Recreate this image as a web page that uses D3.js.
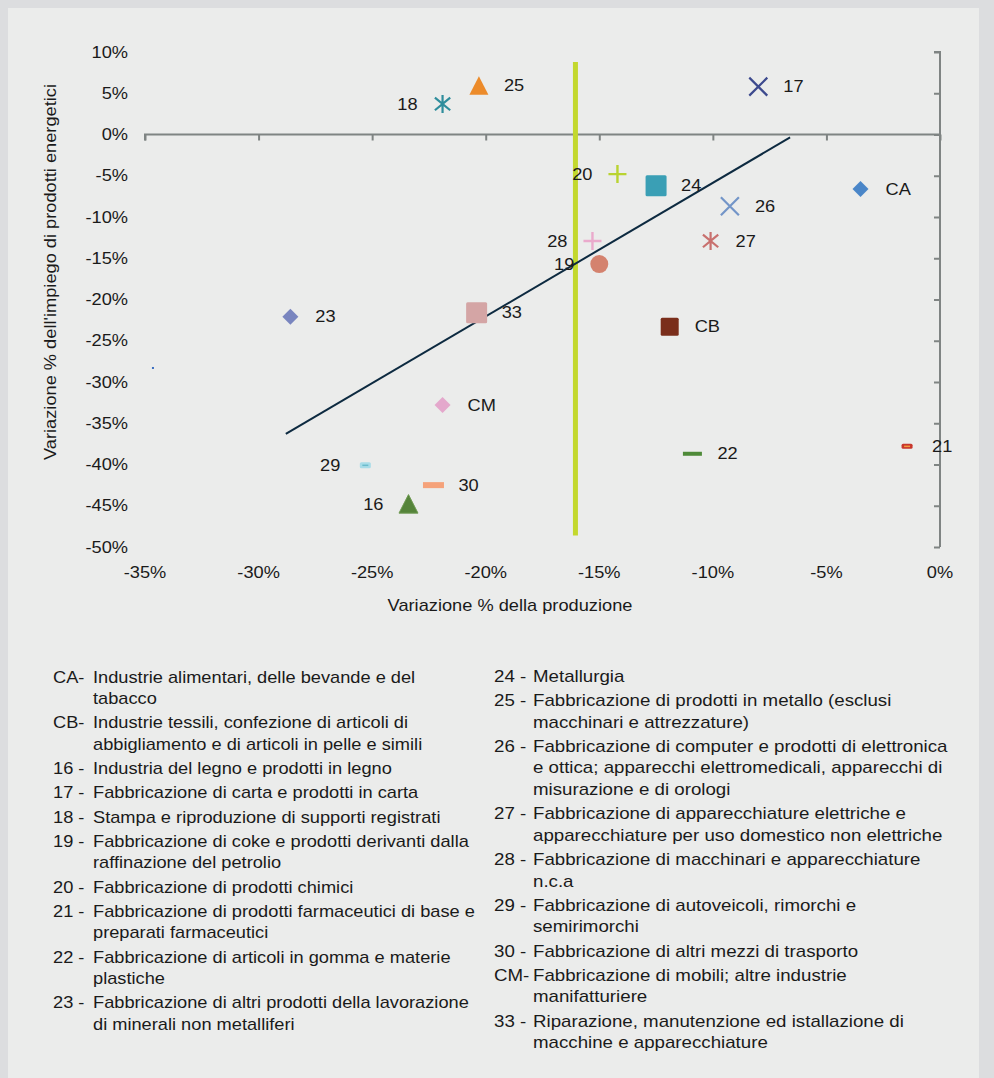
<!DOCTYPE html>
<html>
<head>
<meta charset="utf-8">
<script src="https://cdn.jsdelivr.net/npm/d3@7"></script>
<style>
  html, body { margin: 0; padding: 0; background: #dcdddf; }
  svg { display: block; }
  text { font-family: "Liberation Sans", Arial, sans-serif; fill: #1a1a1a; }
</style>
</head>
<body>
<svg id="chart" width="994" height="1078"></svg>
<script>
// ---------- DATA ----------
const codes        = ["CA", "CB", "16", "17", "18", "19", "20", "21", "22", "23", "24", "25", "26", "27", "28", "29", "30", "33", "CM"];
const prodChange   = [-3.5, -11.9, -23.4, -8.0, -21.9, -15.0, -14.2, -1.45, -10.9, -28.6, -12.5, -20.3, -9.25, -10.1, -15.3, -25.3, -22.3, -20.4, -21.9];
const energyChange = [-6.6, -23.3, -44.8, 5.8, 3.7, -15.7, -4.8, -37.8, -38.7, -22.1, -6.2, 5.9, -8.7, -12.9, -12.9, -40.1, -42.5, -21.6, -32.8];

const strayX = [-34.65];
const strayY = [-28.3];

const trendX = [-28.8, -6.6];
const trendY = [-36.3, -0.35];

const refLineX = [-16.05, -16.05];
const refLineY = [8.8, -48.6];

const xTicks = [-35, -30, -25, -20, -15, -10, -5, 0];
const yTicks = [10, 5, 0, -5, -10, -15, -20, -25, -30, -35, -40, -45, -50];

const xTitle = "Variazione % della produzione";
const yTitle = "Variazione % dell'impiego di prodotti energetici";

const legendLeftCodes = ["CA-", "CB-", "16 -", "17 -", "18 -", "19 -", "20 -", "21 -", "22 -", "23 -"];
const legendLeftText = [
  ["Industrie alimentari, delle bevande e del", "tabacco"],
  ["Industrie tessili, confezione di articoli di", "abbigliamento e di articoli in pelle e simili"],
  ["Industria del legno e prodotti in legno"],
  ["Fabbricazione di carta e prodotti in carta"],
  ["Stampa e riproduzione di supporti registrati"],
  ["Fabbricazione di coke e prodotti derivanti dalla", "raffinazione del petrolio"],
  ["Fabbricazione di prodotti chimici"],
  ["Fabbricazione di prodotti farmaceutici di base e", "preparati farmaceutici"],
  ["Fabbricazione di articoli in gomma e materie", "plastiche"],
  ["Fabbricazione di altri prodotti della lavorazione", "di minerali non metalliferi"]
];
const legendRightCodes = ["24 -", "25 -", "26 -", "27 -", "28 -", "29 -", "30 -", "CM-", "33 -"];
const legendRightText = [
  ["Metallurgia"],
  ["Fabbricazione di prodotti in metallo (esclusi", "macchinari e attrezzature)"],
  ["Fabbricazione di computer e prodotti di elettronica", "e ottica; apparecchi elettromedicali, apparecchi di", "misurazione e di orologi"],
  ["Fabbricazione di apparecchiature elettriche e", "apparecchiature per uso domestico non elettriche"],
  ["Fabbricazione di macchinari e apparecchiature", "n.c.a"],
  ["Fabbricazione di autoveicoli, rimorchi e", "semirimorchi"],
  ["Fabbricazione di altri mezzi di trasporto"],
  ["Fabbricazione di mobili; altre industrie", "manifatturiere"],
  ["Riparazione, manutenzione ed istallazione di", "macchine e apparecchiature"]
];

// ---------- STYLE (marker per code) ----------
const markerStyle = {
  "CA": {shape: "diamond", color: "#4a86c8", size: 16},
  "CB": {shape: "square", color: "#7a2e1b", size: 18},
  "16": {shape: "triangle", color: "#55843a", size: 19, stroke: "#6f9a52"},
  "17": {shape: "x", color: "#3d4a8e", size: 18},
  "18": {shape: "asterisk", color: "#2f8d9c", size: 18},
  "19": {shape: "circle", color: "#d4826e", size: 18},
  "20": {shape: "plus", color: "#b9d331", size: 18},
  "21": {shape: "dash", color: "#c8372c", inner: "#f29a40", w: 11, h: 5},
  "22": {shape: "dash", color: "#4e8a38", w: 19, h: 4},
  "23": {shape: "diamond", color: "#7985bf", size: 16},
  "24": {shape: "square", color: "#3a9fb5", size: 21},
  "25": {shape: "triangle", color: "#ec8b2a", size: 19},
  "26": {shape: "x", color: "#7395c8", size: 18},
  "27": {shape: "asterisk", color: "#c8706e", size: 18},
  "28": {shape: "plus", color: "#eaaacc", size: 18},
  "29": {shape: "dash", color: "#a8dce8", inner: "#6bbccc", w: 11, h: 6},
  "30": {shape: "dash", color: "#f5a27a", w: 21, h: 6},
  "33": {shape: "square", color: "#d4a5a5", size: 21},
  "CM": {shape: "diamond", color: "#e4a8cc", size: 16}
};
const labelLeft = new Set(["18", "20", "28", "19", "29", "16"]);

// text is a bit wider than Arial in the reference
const SX = 1.14;
const tpos = (tx, ty, rot) => `translate(${tx},${ty})` + (rot ? ` rotate(${rot})` : "") + ` scale(${SX},1)`;

// ---------- LAYOUT ----------
const svg = d3.select("#chart");
svg.append("rect").attr("x", 8).attr("y", 8).attr("width", 971).attr("height", 1070).attr("fill", "#ebeceb");

const x = d3.scaleLinear().domain([-35, 0]).range([145, 940]);
const y = d3.scaleLinear().domain([-50, 10]).range([547, 52]);
const axisColor = "#7f8483";

// horizontal axis at y=0
const xAxis = svg.append("g").attr("transform", `translate(0,${y(0)})`)
  .call(d3.axisBottom(x).tickValues(xTicks).tickSize(6).tickFormat(""));
xAxis.select(".domain").attr("stroke", axisColor).attr("stroke-width", 2).attr("d", `M${x(-35)},6V0H${x(0)}`);
xAxis.selectAll(".tick line").attr("stroke", axisColor).attr("stroke-width", 2);

// vertical axis at x=0
const yAxis = svg.append("g").attr("transform", `translate(${x(0)},0)`)
  .call(d3.axisLeft(y).tickValues(yTicks).tickSize(6).tickFormat(""));
yAxis.select(".domain").attr("stroke", axisColor).attr("stroke-width", 2).attr("d", `M-6,${y(10)}H0V${y(-50)}`);
yAxis.selectAll(".tick line").attr("stroke", axisColor).attr("stroke-width", 2);

// tick labels (low position)
svg.append("g").selectAll("text").data(xTicks).join("text")
  .attr("transform", d => tpos(x(d), 572)).attr("dy", "0.35em")
  .attr("text-anchor", "middle").attr("font-size", 16)
  .text(d => d + "%");
svg.append("g").selectAll("text").data(yTicks).join("text")
  .attr("transform", d => tpos(128, y(d))).attr("dy", "0.35em")
  .attr("text-anchor", "end").attr("font-size", 16)
  .text(d => d + "%");

// axis titles
svg.append("text").attr("transform", tpos(510, 605)).attr("dy", "0.35em")
  .attr("text-anchor", "middle").attr("font-size", 16).text(xTitle);
svg.append("text").attr("transform", tpos(50, 272, -90)).attr("dy", "0.35em")
  .attr("text-anchor", "middle").attr("font-size", 16).text(yTitle);

// reference vertical line
svg.append("line")
  .attr("x1", x(refLineX[0])).attr("x2", x(refLineX[1]))
  .attr("y1", y(refLineY[0])).attr("y2", y(refLineY[1]))
  .attr("stroke", "#c3d82e").attr("stroke-width", 5);

// trend line
svg.append("path")
  .datum(trendX.map((v, i) => [v, trendY[i]]))
  .attr("d", d3.line().x(d => x(d[0])).y(d => y(d[1])))
  .attr("fill", "none").attr("stroke", "#0d2a40").attr("stroke-width", 2);

// stray point
svg.append("g").selectAll("rect").data(strayX.map((v, i) => [v, strayY[i]])).join("rect")
  .attr("x", d => x(d[0]) - 1).attr("y", d => y(d[1]) - 1).attr("width", 2).attr("height", 2)
  .attr("fill", "#3a6ec0");

// markers
const pts = codes.map((c, i) => ({code: c, px: prodChange[i], py: energyChange[i]}));
const mg = svg.append("g");
pts.forEach(p => {
  const s = markerStyle[p.code];
  const cx = x(p.px), cy = y(p.py);
  const g = mg.append("g").attr("transform", `translate(${cx},${cy})`);
  const h = (s.size || 0) / 2;
  if (s.shape === "square") {
    g.append("rect").attr("x", -h).attr("y", -h).attr("width", s.size).attr("height", s.size)
      .attr("rx", 1.5).attr("fill", s.color);
  } else if (s.shape === "diamond") {
    g.append("path").attr("d", `M0,${-h}L${h},0L0,${h}L${-h},0Z`).attr("fill", s.color);
  } else if (s.shape === "triangle") {
    g.append("path").attr("d", `M0,${-h}L${h},${h * 0.95}L${-h},${h * 0.95}Z`).attr("fill", s.color)
      .attr("stroke", s.stroke || "none").attr("stroke-width", 1);
  } else if (s.shape === "circle") {
    g.append("circle").attr("r", h).attr("fill", s.color);
  } else if (s.shape === "x") {
    g.append("path").attr("d", `M${-h},${-h}L${h},${h}M${h},${-h}L${-h},${h}`)
      .attr("stroke", s.color).attr("stroke-width", 2.2).attr("fill", "none");
  } else if (s.shape === "asterisk") {
    g.append("path").attr("d", `M0,${-h}V${h}M${-h * 0.85},${-h * 0.7}L${h * 0.85},${h * 0.7}M${h * 0.85},${-h * 0.7}L${-h * 0.85},${h * 0.7}`)
      .attr("stroke", s.color).attr("stroke-width", 2.2).attr("fill", "none");
  } else if (s.shape === "plus") {
    g.append("path").attr("d", `M0,${-h}V${h}M${-h},0H${h}`)
      .attr("stroke", s.color).attr("stroke-width", 2.4).attr("fill", "none");
  } else if (s.shape === "dash") {
    g.append("rect").attr("x", -s.w / 2).attr("y", -s.h / 2).attr("width", s.w).attr("height", s.h)
      .attr("rx", s.inner ? 1.5 : 0).attr("fill", s.color);
    if (s.inner) {
      g.append("rect").attr("x", -s.w / 2 + 2.5).attr("y", -0.75).attr("width", s.w - 5).attr("height", 1.5)
        .attr("fill", s.inner);
    }
  }
});

// point labels
svg.append("g").selectAll("text").data(pts).join("text")
  .attr("transform", d => tpos(labelLeft.has(d.code) ? x(d.px) - 25 : x(d.px) + 25, y(d.py)))
  .attr("dy", "0.35em")
  .attr("text-anchor", d => labelLeft.has(d.code) ? "end" : "start")
  .attr("font-size", 16)
  .text(d => d.code);

// legend
function drawLegend(codesArr, textArr, xCode, xText, y0, fs) {
  let yy = y0;
  const g = svg.append("g");
  codesArr.forEach((c, i) => {
    g.append("text").attr("transform", tpos(xCode, yy)).attr("dy", "0.35em").attr("font-size", fs).text(c);
    textArr[i].forEach((line, j) => {
      g.append("text").attr("transform", tpos(xText, yy + j * 21.6)).attr("dy", "0.35em").attr("font-size", fs).text(line);
    });
    yy += (textArr[i].length - 1) * 21.6 + 24.2;
  });
}
drawLegend(legendLeftCodes, legendLeftText, 53, 93, 677, 16);
drawLegend(legendRightCodes, legendRightText, 494, 533, 676, 16.4);
</script>
</body>
</html>
